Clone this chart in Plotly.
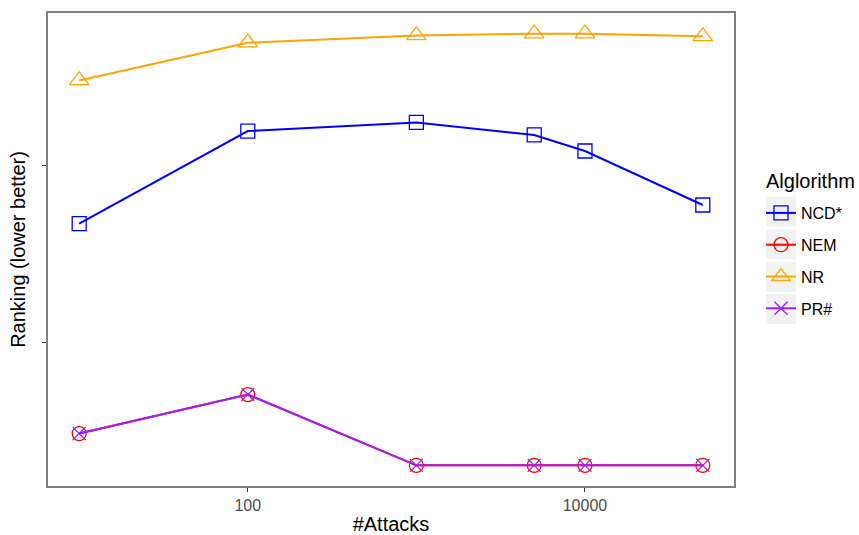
import plotly.graph_objects as go

attacks = [10, 100, 1000, 5000, 10000, 50000]
ncd = [2.673, 3.197, 3.246, 3.175, 3.084, 2.778]
nem = [1.483, 1.704, 1.303, 1.303, 1.303, 1.303]
nr = [3.484, 3.698, 3.739, 3.749, 3.749, 3.734]
pr = [1.483, 1.704, 1.303, 1.303, 1.303, 1.303]

x_ticks = [100, 10000]
x_tick_labels = ["100", "10000"]
y_ticks = [2, 3]

FONT = "Liberation Sans, Arial, Helvetica, sans-serif"

series = [
    ("NCD*", ncd, "#0000ff", "square-open", 14),
    ("NEM", nem, "#ff0000", "circle-open", 14),
    ("NR", nr, "#ffa500", "triangle-up-open", 17),
    ("PR#", pr, "#a020f0", "x-thin-open", 13),
]

W, H = 859, 535
ML, MR, MT, MB = 48, 125, 13, 49
PW, PH = W - ML - MR, H - MT - MB

fig = go.Figure()
for name, vals, color, symbol, size in series:
    fig.add_trace(go.Scatter(
        x=attacks, y=vals, name=name, legendgroup=name, mode="lines+markers",
        line=dict(color=color, width=2),
        marker=dict(symbol=symbol, size=size, color=color,
                    line=dict(color=color, width=1.3)),
    ))

# grey legend key backgrounds (ggplot style)
shapes = []
for cy in [211.7, 244.3, 276.7, 309.0]:
    shapes.append(dict(
        type="rect", xref="paper", yref="paper", layer="below",
        x0=(766 - ML) / PW, x1=(796 - ML) / PW,
        y0=(MT + PH - (cy + 15)) / PH, y1=(MT + PH - (cy - 15)) / PH,
        fillcolor="#f2f2f2", line=dict(width=0),
    ))

fig.update_layout(
    width=W, height=H,
    margin=dict(l=ML, r=MR, t=MT, b=MB),
    paper_bgcolor="white", plot_bgcolor="white",
    font=dict(family=FONT, color="black"),
    shapes=shapes,
    annotations=[dict(
        text="Alglorithm", xref="paper", yref="paper",
        x=(764 - ML) / PW, y=(MT + PH - 181) / PH,
        xanchor="left", yanchor="middle", showarrow=False,
        font=dict(size=20, color="black"),
    )],
    legend=dict(
        font=dict(size=16, color="black"),
        xref="container", yref="container",
        x=761 / W, y=1 - 196 / H, xanchor="left", yanchor="top",
        tracegroupgap=8, itemwidth=30, bgcolor="rgba(0,0,0,0)",
    ),
)
fig.update_xaxes(
    type="log", range=[0.815, 4.884], automargin=False,
    tickvals=x_ticks, ticktext=x_tick_labels,
    ticks="outside", ticklen=4, tickcolor="#333333", tickwidth=1,
    tickfont=dict(size=16, color="#4d4d4d"),
    showgrid=False, zeroline=False,
    showline=True, mirror=True, linecolor="#7f7f7f", linewidth=1.5,
    title=dict(text="#Attacks", font=dict(size=20, color="black"), standoff=6),
)
fig.update_yaxes(
    range=[1.186, 3.866], automargin=False,
    tickvals=y_ticks, ticktext=["", ""],
    ticks="outside", ticklen=4, tickcolor="#333333", tickwidth=1,
    showgrid=False, zeroline=False,
    showline=True, mirror=True, linecolor="#7f7f7f", linewidth=1.5,
    title=dict(text="Ranking (lower better)", font=dict(size=20, color="black"), standoff=9),
)

fig.write_html(
    "out.html",
    config={"displayModeBar": False},
    post_script="document.body.style.margin='0';document.body.style.overflow='hidden';",
)
